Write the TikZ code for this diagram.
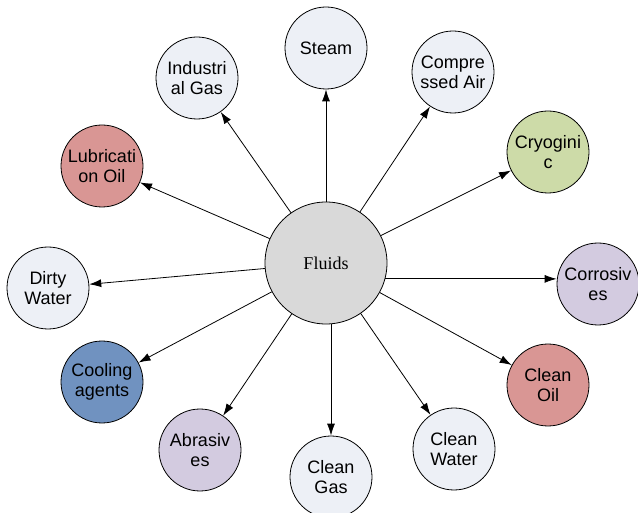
\documentclass[tikz,border=0pt]{standalone}
\usepackage{fontspec}
\setmainfont{Liberation Serif}
\newfontfamily\arialf{Liberation Sans}
\usetikzlibrary{shapes,arrows.meta,calc,positioning}

\definecolor{cLight}{RGB}{237,240,246}
\definecolor{cRed}{RGB}{217,150,148}
\definecolor{cGreen}{RGB}{205,219,168}
\definecolor{cLila}{RGB}{211,203,224}
\definecolor{cBlue}{RGB}{112,146,192}
\definecolor{cGrey}{RGB}{217,217,217}

\tikzset{
  fluid/.style={circle,draw,line width=0.8pt,minimum size=82pt,inner sep=0pt,align=center,
    font=\arialf\fontsize{18}{20}\selectfont,fill=cLight},
  hub/.style={circle,draw,line width=0.8pt,minimum size=122pt,fill=cGrey,
    font=\fontsize{18}{20}\selectfont},
  feed/.style={line width=0.8pt,-{Latex[length=12pt,width=8pt]}}
}

\begin{document}
\begin{tikzpicture}[x=1pt,y=-1pt]
\useasboundingbox (0,0) rectangle (638,513);

\node[hub] (fl) at (326,263) {Fluids};

\node[fluid] (st) at (326,48) {Steam};
\node[fluid] (ca) at (453,72) {Compre\\ssed Air};
\node[fluid,fill=cGreen] (cr) at (548,152) {Cryogini\\c};
\node[fluid,fill=cLila] (co) at (598,284) {Corrosiv\\es};
\node[fluid,fill=cRed] (cl) at (548,385) {Clean\\Oil};
\node[fluid] (cw) at (454,449) {Clean\\Water};
\node[fluid] (cg) at (331,477) {Clean\\Gas};
\node[fluid,fill=cLila] (ab) at (200,450) {Abrasiv\\es};
\node[fluid,fill=cBlue] (ag) at (102,382) {Cooling\\agents};
\node[fluid] (dw) at (48,288) {Dirty\\Water};
\node[fluid,fill=cRed] (lo) at (102,166) {Lubricati\\on Oil};
\node[fluid] (ig) at (197,78) {Industri\\al Gas};

\foreach \nn in {st,ca,cr,cl,cw,ab,ag,dw,lo,ig}{
\draw[feed] (fl) -- (\nn);
}
% straight feeds
\draw[feed] (fl.-15) -- (fl.-15 -| co.west);
\draw[feed] (fl.south -| cg.north) -- (cg.north);

\end{tikzpicture}
\end{document}
